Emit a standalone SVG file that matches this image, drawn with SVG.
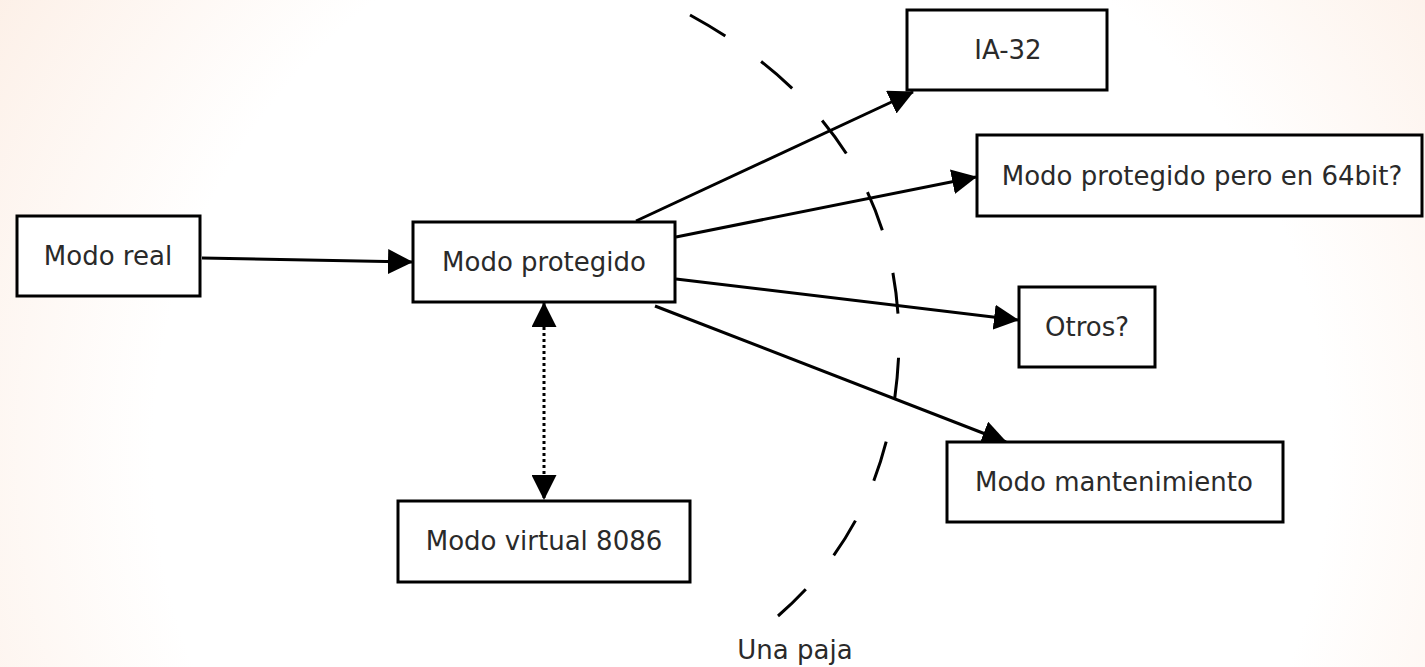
<svg xmlns="http://www.w3.org/2000/svg" width="1425" height="667" viewBox="0 0 1425 667">
<defs>
<radialGradient id="bg" cx="0.52" cy="0.68" r="0.75" gradientTransform="translate(0.52 0.68) scale(1 2.1) translate(-0.52 -0.68)">
<stop offset="0" stop-color="#ffffff"/>
<stop offset="0.55" stop-color="#ffffff"/>
<stop offset="1" stop-color="#fbe6d8"/>
</radialGradient>
<marker id="ah" viewBox="0 0 25 25" markerWidth="25" markerHeight="25" refX="24" refY="12.5" orient="auto" markerUnits="userSpaceOnUse">
<path d="M0,0 L25,12.5 L0,25 z" fill="#000"/>
</marker>
<marker id="ahs" viewBox="0 0 25 25" markerWidth="25" markerHeight="25" refX="24" refY="12.5" orient="auto-start-reverse" markerUnits="userSpaceOnUse">
<path d="M0,0 L25,12.5 L0,25 z" fill="#000"/>
</marker>
</defs>
<style>
.box{fill:#fff;stroke:#000;stroke-width:3}
.lbl{font-family:"DejaVu Sans","Liberation Sans",sans-serif;font-size:26px;fill:#2a2a2a;text-anchor:middle}
.edge{fill:none;stroke:#000;stroke-width:3}
</style>
<rect width="1425" height="667" fill="url(#bg)"/>
<g id="connectors">
<line class="edge" x1="202" y1="258" x2="412" y2="262" marker-end="url(#ah)"/>
<line class="edge" x1="636" y1="221" x2="913" y2="92" marker-end="url(#ah)"/>
<line class="edge" x1="676" y1="237" x2="976" y2="177" marker-end="url(#ah)"/>
<line class="edge" x1="676" y1="279" x2="1018" y2="320" marker-end="url(#ah)"/>
<line class="edge" x1="655" y1="306" x2="1006" y2="442" marker-end="url(#ah)"/>
<line class="edge" x1="544" y1="303" x2="544" y2="499" stroke-dasharray="3,3" marker-start="url(#ahs)" marker-end="url(#ahs)"/>
</g>
<g id="paja">
<path class="edge" d="M690,15 Q900,130 899,345 Q895,515 778,616" stroke-dasharray="41,44"/>
<text class="lbl" x="795" y="659">Una paja</text>
</g>
<g id="modo-real">
<rect class="box" x="17" y="216" width="183" height="80"/>
<text class="lbl" x="108" y="265">Modo real</text>
</g>
<g id="modo-protegido">
<rect class="box" x="413" y="222" width="262" height="80"/>
<text class="lbl" x="544" y="271">Modo protegido</text>
</g>
<g id="ia32">
<rect class="box" x="907" y="10" width="200" height="80"/>
<text class="lbl" x="1008" y="59">IA-32</text>
</g>
<g id="pm64">
<rect class="box" x="977" y="135" width="445" height="81"/>
<text class="lbl" x="1202" y="185">Modo protegido pero en 64bit?</text>
</g>
<g id="otros">
<rect class="box" x="1019" y="287" width="136" height="80"/>
<text class="lbl" x="1087" y="336">Otros?</text>
</g>
<g id="mantenimiento">
<rect class="box" x="947" y="442" width="336" height="80"/>
<text class="lbl" x="1114" y="491">Modo mantenimiento</text>
</g>
<g id="virtual8086">
<rect class="box" x="398" y="501" width="292" height="81"/>
<text class="lbl" x="544" y="550">Modo virtual 8086</text>
</g>
</svg>
